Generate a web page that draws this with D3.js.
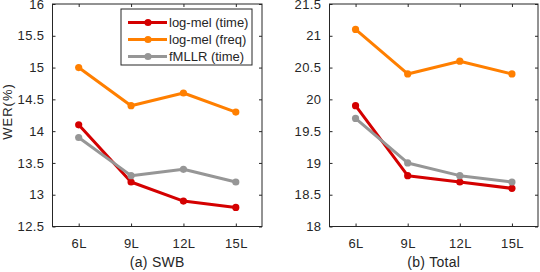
<!DOCTYPE html>
<html><head><meta charset="utf-8">
<script src="https://cdn.jsdelivr.net/npm/d3@7"></script>
<style>body{margin:0;background:#fff}svg{display:block}text{font-family:"Liberation Sans",Arial,sans-serif;fill:#262626}</style>
</head><body><svg id="c" width="540" height="272"></svg>
<script>
const categories = ["6L","9L","12L","15L"];
const seriesNames = ["log-mel (time)","log-mel (freq)","fMLLR (time)"];
const seriesColors = ["#d40000","#ff7f00","#969696"];
const swbTime = [14.1,13.2,12.9,12.8];
const swbFreq = [15.0,14.4,14.6,14.3];
const swbFmllr = [13.9,13.3,13.4,13.2];
const totTime = [19.9,18.8,18.7,18.6];
const totFreq = [21.1,20.4,20.6,20.4];
const totFmllr = [19.7,19.0,18.8,18.7];
const swbTicks = [12.5,13,13.5,14,14.5,15,15.5,16];
const totTicks = [18,18.5,19,19.5,20,20.5,21,21.5];

const svg = d3.select("#c");
function panel(x0,x1,series,ticks,title,legend){
  const y0=4,y1=226.5;
  const g=svg.append("g");
  const x=d3.scalePoint().domain(categories).range([x0,x1]).padding(0.5);
  const y=d3.scaleLinear().domain([ticks[0],ticks[ticks.length-1]]).range([y1,y0]);
  const col="#262626";
  g.append("rect").attr("x",x0).attr("y",y0).attr("width",x1-x0).attr("height",y1-y0).attr("fill","none").attr("stroke",col).attr("stroke-width",1);
  const yl=g.append("g").attr("transform",`translate(${x0},0)`).call(d3.axisLeft(y).tickValues(ticks).tickSizeInner(-3).tickSizeOuter(0).tickPadding(8).tickFormat(d=>String(d)));
  const yr=g.append("g").attr("transform",`translate(${x1},0)`).call(d3.axisRight(y).tickValues(ticks).tickSizeInner(-3).tickSizeOuter(0).tickFormat(""));
  const xb=g.append("g").attr("transform",`translate(0,${y1})`).call(d3.axisBottom(x).tickSizeInner(-3).tickSizeOuter(0).tickPadding(12));
  const xt=g.append("g").attr("transform",`translate(0,${y0})`).call(d3.axisTop(x).tickSizeInner(-3).tickSizeOuter(0).tickFormat(""));
  [yl,yr,xb,xt].forEach(a=>{a.select(".domain").remove();a.selectAll("line").attr("stroke",col);a.selectAll("text").attr("fill",col).style("font-size","13px").style("letter-spacing","0.4px").style("font-family","Liberation Sans, Arial, sans-serif");});
  g.append("text").attr("x",(x0+x1)/2).attr("y",267).attr("text-anchor","middle").style("font-size","14px").style("letter-spacing","0.3px").text(title);
  const line=d3.line().x((d,i)=>x(categories[i])).y(d=>y(d));
  series.forEach((s,k)=>{
    g.append("path").datum(s).attr("d",line).attr("fill","none").attr("stroke",seriesColors[k]).attr("stroke-width",3).attr("stroke-linejoin","round");
    g.selectAll(null).data(s).enter().append("circle").attr("cx",(d,i)=>x(categories[i])).attr("cy",d=>y(d)).attr("r",3.6).attr("fill",seriesColors[k]);
  });
  if(legend){
    const lx=121,ly=9,lw=131,lh=56;
    const lg=g.append("g");
    lg.append("rect").attr("x",lx).attr("y",ly).attr("width",lw).attr("height",lh).attr("fill","#fff").attr("stroke",col).attr("stroke-width",1);
    seriesNames.forEach((n,k)=>{
      const yy=ly+13.5+k*17;
      lg.append("line").attr("x1",lx+7).attr("x2",lx+46).attr("y1",yy).attr("y2",yy).attr("stroke",seriesColors[k]).attr("stroke-width",3);
      lg.append("circle").attr("cx",lx+27).attr("cy",yy).attr("r",3.6).attr("fill",seriesColors[k]);
      lg.append("text").attr("x",lx+48).attr("y",yy+4.7).style("font-size","13px").text(n);
    });
  }
  return g;
}
panel(52.5,262,[swbTime,swbFreq,swbFmllr],swbTicks,"(a) SWB",true);
panel(329.5,538,[totTime,totFreq,totFmllr],totTicks,"(b) Total",false);
svg.append("text").attr("transform","translate(12,111.5) rotate(-90)").attr("text-anchor","middle").style("font-size","13px").style("letter-spacing","1px").text("WER(%)");
</script></body></html>
